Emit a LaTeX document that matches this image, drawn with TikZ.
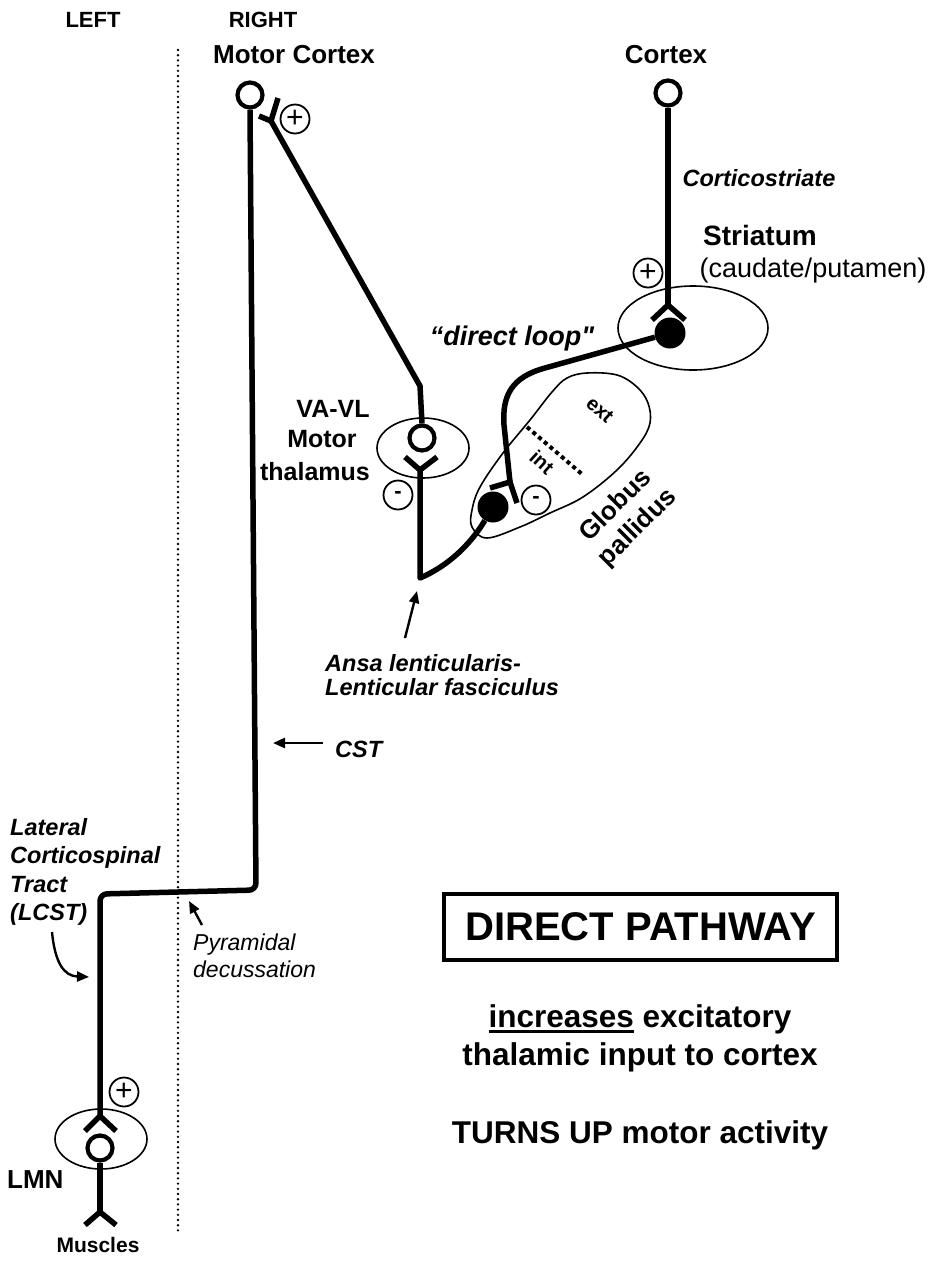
\documentclass[tikz,border=0pt]{standalone}
\usepackage{fontspec}
\setmainfont{Liberation Sans}[Ligatures=TeXOff]
\usetikzlibrary{shapes.geometric,arrows.meta}
\newcommand\myul[1]{\setbox0\hbox{#1}\rlap{\rule[-6pt]{\wd0}{3pt}}\box0\relax}
\begin{document}
\begin{tikzpicture}[x=1pt,y=-1pt,
  axon/.style={line width=5.5pt, line join=round},
  fork/.style={line width=5.5pt, line cap=butt, line join=miter},
  soma/.style={circle, draw, line width=4.2pt, minimum size=25pt, inner sep=0pt},
  fsoma/.style={circle, fill=black, minimum size=31pt, inner sep=0pt},
  sign/.style={circle, draw, line width=1.8pt, minimum size=29pt, inner sep=0pt, font=\fontsize{30}{30}\selectfont},
  region/.style={ellipse, draw, line width=1.6pt, inner sep=0pt},
  midline/.style={line width=2.6pt, dash pattern=on 0pt off 5.2pt, line cap=round},
  ptr/.style={line width=2.4pt, -{Triangle[length=12pt,width=10pt]}},
  lab/.style={inner sep=0pt, anchor=base, font=\bfseries\fontsize{26}{30}\selectfont},
  labw/.style={inner sep=0pt, anchor=base west},
  bi/.style={font=\bfseries\itshape\fontsize{23.5}{28}\selectfont},
]
\useasboundingbox (0,0) rectangle (942,1264);

% midline
\coordinate (mtop) at (178,50);
\coordinate (mbot) at (178,1232);
\draw[midline] (mtop) -- (mbot);

% regions
\node[region, minimum width=92pt, minimum height=60pt] (thalreg) at (423,448) {};
\node[region, minimum width=150pt, minimum height=84pt] (strreg) at (693,328) {};
\node[region, minimum width=92pt, minimum height=60pt] (lmnreg) at (101,1139) {};
\draw[line width=1.6pt] plot[smooth cycle, tension=0.6] coordinates {
  (472,527) (487,538) (520,527) (550,513) (583,497) (617,470) (640,443) (650,423)
  (648,403) (637,387) (617,375) (587,373) (567,378) (552,392) (530,420) (503,453)
  (480,487) (472,510)};
\coordinate (dA) at (527,427);
\coordinate (dB) at (583,475);
\draw[line width=4pt, dash pattern=on 4pt off 3.5pt] (dA) -- (dB);
\node[font=\bfseries\fontsize{20}{20}\selectfont, rotate=-42] (ext) at (600,410) {ext};
\node[font=\bfseries\fontsize{20}{20}\selectfont, rotate=-42] (int) at (542,462) {int};

% somas
\node[soma] (mc) at (250,95) {};
\node[soma] (cx) at (668,93) {};
\node[soma] (th) at (422,438) {};
\node[soma] (lmn) at (100,1148) {};
\node[fsoma] (st) at (670,333) {};
\node[fsoma] (gp) at (493,507) {};

% CST
\coordinate (lmnsyn) at (100,1116);
\draw[axon, rounded corners=7pt] (mc.south) -- (256,890) -- (100,894) -- (lmnsyn);
\draw[fork] (85,1131) -- (lmnsyn) -- (116,1131);
\coordinate (mus) at (100,1212);
\draw[axon] (lmn.south) -- (mus);
\draw[fork] (85,1225) -- (mus) -- (116,1225);

% thalamus -> motor cortex
\coordinate (mcsyn) at (271,121);
\draw[axon] (th.north) -- (420,386) -- (mcsyn);
\draw[fork] (259,116) -- (mcsyn) -- (278,98);

% GP -> thalamus
\coordinate (thsyn) at (420,470);
\draw[fork] (405,457) -- (thsyn) -- (437,457);
\draw[axon] (thsyn) -- (420,578) .. controls (448,566) and (470,545) .. (gp);

% cortex -> striatum
\coordinate (stsyn) at (668,305);
\draw[axon] (cx.south) -- (stsyn);
\draw[fork] (652,320) -- (stsyn) -- (685,320);

% striatum -> GP
\coordinate (gpsyn) at (510,482);
\draw[axon] (st) -- (545,368) .. controls (512,377) and (502,395) .. (504,425) -- (gpsyn);
\draw[fork] (490,488) -- (gpsyn) -- (517,503);

% signs
\node[sign] (p1) at (295,119) {+};
\node[sign] (p2) at (648,273) {+};
\node[sign, font=\bfseries\fontsize{22}{22}\selectfont] (m1) at (398,495) {-};
\node[sign, font=\bfseries\fontsize{22}{22}\selectfont] (m2) at (536,500) {-};
\node[sign] (p3) at (124,1092) {+};

% labels
\node[lab, font=\bfseries\fontsize{22}{26}\selectfont] (tleft) at (93,27) {LEFT};
\node[lab, font=\bfseries\fontsize{22}{26}\selectfont] (tright) at (263,27) {RIGHT};
\node[lab] (tmc) at (294,63) {Motor Cortex};
\node[lab] (tcx) at (666,63) {Cortex};
\node[lab, bi] (tcs) at (759,186) {Corticostriate};
\node[lab, font=\bfseries\fontsize{28}{30}\selectfont] (tstr) at (760,245) {Striatum};
\node[lab, font=\fontsize{27}{30}\selectfont] (tcau) at (813,277) {(caudate/putamen)};
\node[lab, font=\bfseries\itshape\fontsize{27}{30}\selectfont] (tdl) at (512,345) {“direct loop"};
\node[lab, font=\bfseries\fontsize{25}{30}\selectfont] (tva) at (333,417) {VA-VL};
\node[lab, font=\bfseries\fontsize{25}{30}\selectfont] (tmo) at (322,447) {Motor};
\node[lab, font=\bfseries\fontsize{25}{30}\selectfont] (tth) at (315,480) {thalamus};
\node[font=\bfseries\fontsize{26}{31}\selectfont, rotate=45, align=center, inner sep=0pt] (tgp) at (627,517) {Globus\\pallidus};
\node[labw, bi] (tan1) at (325,671) {Ansa lenticularis-};
\node[labw, bi] (tan2) at (325,695) {Lenticular fasciculus};
\node[labw, bi] (tcst) at (335,757) {CST};
\node[labw, bi] (tl1) at (10,835) {Lateral};
\node[labw, bi] (tl2) at (10,863) {Corticospinal};
\node[labw, bi] (tl3) at (10,892) {Tract};
\node[labw, bi] (tl4) at (10,920) {(LCST)};
\node[labw, font=\itshape\fontsize{23}{28}\selectfont] (tpy1) at (193,950) {Pyramidal};
\node[labw, font=\itshape\fontsize{23}{28}\selectfont] (tpy2) at (193,977) {decussation};
\node[draw, line width=4pt, minimum width=393pt, minimum height=66pt, inner sep=0pt, font=\bfseries\fontsize{40}{40}\selectfont] (box) at (640.5,927) {DIRECT PATHWAY};
\node[lab, font=\bfseries\fontsize{31.5}{36}\selectfont] (ti1) at (640,1027) {\myul{increases} excitatory};
\node[lab, font=\bfseries\fontsize{31.5}{36}\selectfont] (ti2) at (640,1065) {thalamic input to cortex};
\node[lab, font=\bfseries\fontsize{31.5}{36}\selectfont] (ti3) at (640,1143) {TURNS UP motor activity};
\node[labw, font=\bfseries\fontsize{26}{30}\selectfont] (tlmn) at (7,1188) {LMN};
\node[lab, font=\bfseries\fontsize{21}{25}\selectfont] (tmus) at (98,1252) {Muscles};

% pointer arrows
\coordinate (a1s) at (405,638); \coordinate (a1e) at (417,591);
\draw[ptr] (a1s) -- (a1e);
\coordinate (a2s) at (323,743); \coordinate (a2e) at (273,743);
\draw[ptr] (a2s) -- (a2e);
\coordinate (a3s) at (52,932); \coordinate (a3e) at (89,977);
\draw[ptr] (a3s) .. controls (55,963) and (64,976) .. (a3e);
\coordinate (a4s) at (202,925); \coordinate (a4e) at (189,901);
\draw[ptr] (a4s) -- (a4e);
\end{tikzpicture}
\end{document}
